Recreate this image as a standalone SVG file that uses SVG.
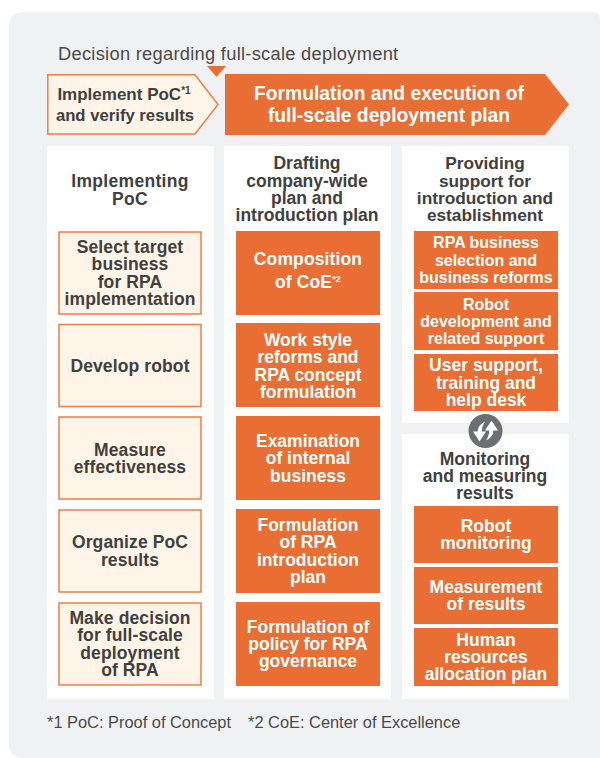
<svg xmlns="http://www.w3.org/2000/svg" width="600" height="758" viewBox="0 0 600 758">
<style>
text{font-family:"Liberation Sans",Arial,sans-serif;text-anchor:middle}
.d{fill:#404040;font-weight:700;font-size:17.5px}
.s{letter-spacing:.12px}
.h{letter-spacing:.3px}
.w{fill:#fff;font-weight:700;font-size:17.5px}
.m{font-size:16px}
.o{fill:#e96e33}
.c{fill:#fef4e8;stroke:#ee7f45;stroke-width:1.5}
.p{fill:#fff}
.n{fill:#4a4a4a;font-size:16.400px;text-anchor:start}
</style>
<rect width="600" height="758" fill="#fff"/>
<path d="M24 12H592Q600 12 600 20V758H24Q9 758 9 743V27Q9 12 24 12Z" fill="#f0f1f3"/>
<text class="n" x="58" y="60" style="font-size:18.300px;letter-spacing:.28px">Decision regarding full-scale deployment</text>
<g id="marker-decision"><polygon class="o" points="207,66 226,66 216.500,77"/></g>
<g id="phase-poc"><polygon class="c" points="47.800,74.800 195,74.800 218,104.500 195,134 47.800,134"/>
<text class="d" x="124" y="100" style="font-size:17px">Implement PoC<tspan font-size="10" dy="-6">*1</tspan></text>
<text class="d" x="125" y="121" style="font-size:16.700px">and verify results</text></g>
<g id="phase-deploy"><polygon class="o" points="225,74 545,74 569,104.500 545,135 225,135"/>
<text class="w" x="389" y="100" style="font-size:19.300px">Formulation and execution of</text>
<text class="w" x="389" y="122" style="font-size:19.300px">full-scale deployment plan</text></g>
<g id="col-poc"><rect class="p" x="47" y="146" width="167" height="553"/>
<text class="d h" x="130" y="187">Implementing</text><text class="d h" x="130" y="205">PoC</text></g>
<g id="col-draft"><rect class="p" x="224" y="146" width="167" height="553"/>
<text class="d" x="307" y="169">Drafting</text><text class="d" x="307" y="187">company-wide</text><text class="d" x="307" y="204">plan and</text><text class="d" x="307" y="221">introduction plan</text></g>
<g id="col-support"><rect class="p" x="402" y="146" width="167" height="277"/>
<text class="d" x="485" y="169" style="font-size:17.300px">Providing</text><text class="d" x="485" y="187" style="font-size:17.300px">support for</text><text class="d" x="485" y="204" style="font-size:17.300px">introduction and</text><text class="d" x="485" y="221" style="font-size:17.300px">establishment</text></g>
<g id="col-monitor"><rect class="p" x="402" y="434" width="167" height="265"/>
<text class="d" x="485" y="465">Monitoring</text><text class="d" x="485" y="482">and measuring</text><text class="d" x="485" y="499">results</text></g>
<g id="n1"><rect class="c" x="59" y="232" width="142" height="82"/><text class="d s" x="130" y="253">Select target</text><text class="d s" x="130" y="270">business</text><text class="d s" x="130" y="288">for RPA</text><text class="d s" x="130" y="305">implementation</text></g>
<g id="n2"><rect class="c" x="59" y="324.500" width="142" height="82"/><text class="d s" x="130" y="372">Develop robot</text></g>
<g id="n3"><rect class="c" x="59" y="417" width="142" height="82"/><text class="d s" x="130" y="456">Measure</text><text class="d s" x="130" y="473">effectiveness</text></g>
<g id="n4"><rect class="c" x="59" y="510" width="142" height="82"/><text class="d s" x="130" y="548">Organize PoC</text><text class="d s" x="130" y="566">results</text></g>
<g id="n5"><rect class="c" x="59" y="603" width="142" height="82"/><text class="d s" x="130" y="624">Make decision</text><text class="d s" x="130" y="641">for full-scale</text><text class="d s" x="130" y="659">deployment</text><text class="d s" x="130" y="676">of RPA</text></g>
<g id="n6"><rect class="o" x="236" y="231" width="144" height="84"/><text class="w s" x="308" y="265">Composition</text><text class="w s" x="308" y="288">of CoE<tspan font-size="9" dy="-6">*2</tspan></text></g>
<g id="n7"><rect class="o" x="236" y="323" width="144" height="84"/><text class="w" x="308" y="346">Work style</text><text class="w" x="308" y="363">reforms and</text><text class="w" x="308" y="381">RPA concept</text><text class="w" x="308" y="398">formulation</text></g>
<g id="n8"><rect class="o" x="236" y="416" width="144" height="84"/><text class="w" x="308" y="447">Examination</text><text class="w" x="308" y="464">of internal</text><text class="w" x="308" y="482">business</text></g>
<g id="n9"><rect class="o" x="236" y="509" width="144" height="84"/><text class="w" x="308" y="531">Formulation</text><text class="w" x="308" y="548">of RPA</text><text class="w" x="308" y="566">introduction</text><text class="w" x="308" y="583">plan</text></g>
<g id="n10"><rect class="o" x="236" y="602" width="144" height="84"/><text class="w" x="308" y="633">Formulation of</text><text class="w" x="308" y="650">policy for RPA</text><text class="w" x="308" y="667">governance</text></g>
<g id="n11"><rect class="o" x="414" y="231" width="144" height="58"/><text class="w m" x="486" y="248">RPA business</text><text class="w m" x="486" y="266">selection and</text><text class="w m" x="486" y="283">business reforms</text></g>
<g id="n12"><rect class="o" x="414" y="292" width="144" height="58"/><text class="w m" x="486" y="310">Robot</text><text class="w m" x="486" y="327">development and</text><text class="w m" x="486" y="344">related support</text></g>
<g id="n13"><rect class="o" x="414" y="354" width="144" height="57"/><text class="w" x="486" y="371">User support,</text><text class="w" x="486" y="389">training and</text><text class="w" x="486" y="406">help desk</text></g>
<g id="n14"><rect class="o" x="414" y="506" width="144" height="57"/><text class="w" x="486" y="532">Robot</text><text class="w" x="486" y="549">monitoring</text></g>
<g id="n15"><rect class="o" x="414" y="567" width="144" height="57"/><text class="w" x="486" y="593">Measurement</text><text class="w" x="486" y="610">of results</text></g>
<g id="n16"><rect class="o" x="414" y="628" width="144" height="58"/><text class="w" x="486" y="646">Human</text><text class="w" x="486" y="663">resources</text><text class="w" x="486" y="680">allocation plan</text></g>
<g id="cycle-icon"><circle cx="485.500" cy="431" r="17" fill="#6d6e71"/>
<path d="M473 431.500H477.500Q478 425 485 421.500Q481.500 427 482 431.500H486L479.500 441.500Z" fill="#fff"/>
<path d="M498 430.500H493.500Q493 437 486 440.500Q489.500 435 489 430.500H485L491.500 420.500Z" fill="#fff"/></g>
<text class="n" x="47" y="728">*1 PoC: Proof of Concept</text>
<text class="n" x="248" y="728">*2 CoE: Center of Excellence</text>
<g id="connectors"></g>
</svg>
